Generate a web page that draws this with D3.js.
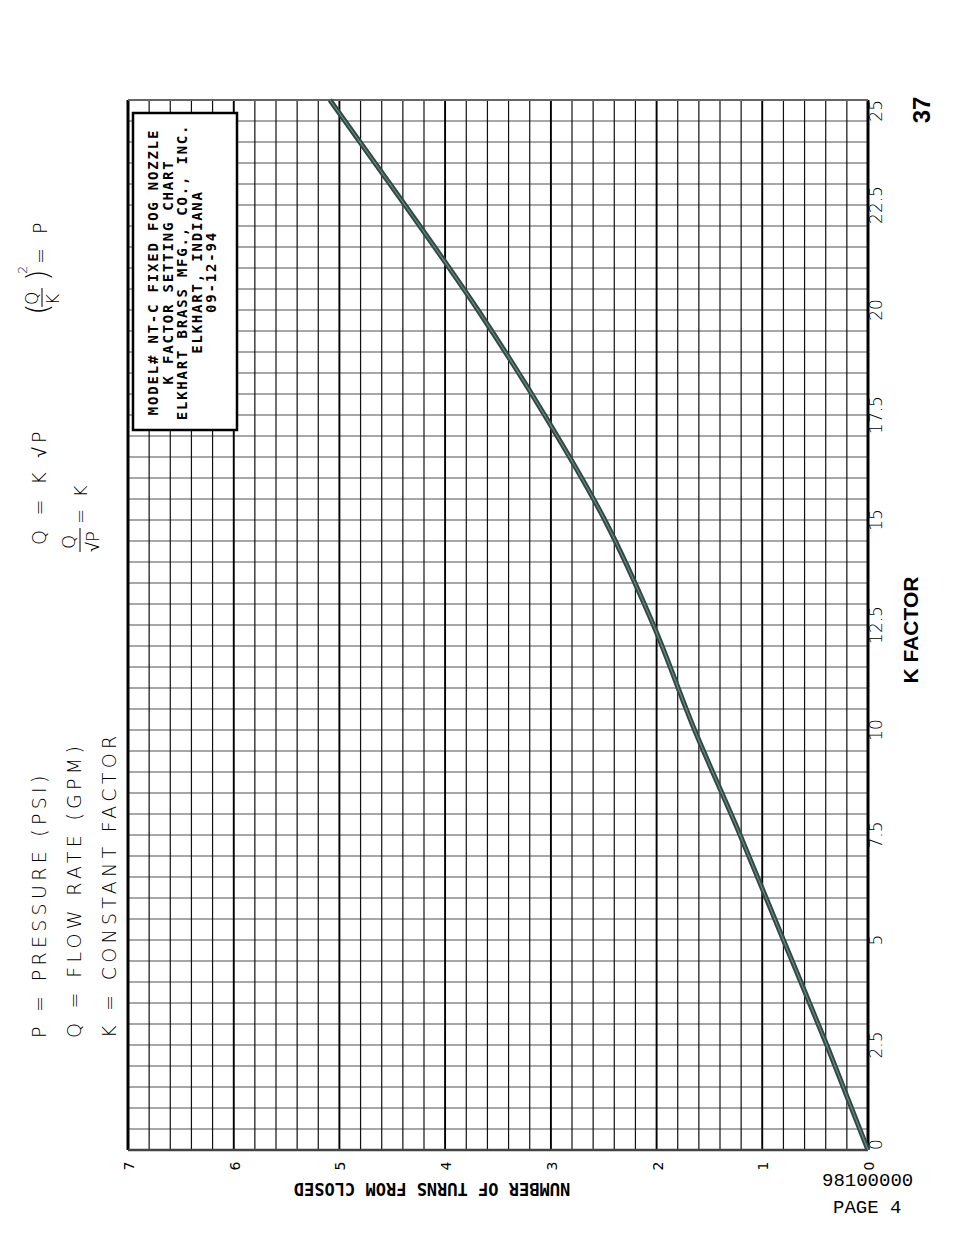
<!DOCTYPE html>
<html><head><meta charset="utf-8">
<script src="https://cdn.jsdelivr.net/npm/d3@7"></script>
<style>body{margin:0;background:#fff}</style></head>
<body><svg id="c" width="954" height="1235"></svg>
<script>
const kTicks=[0,2.5,5,7.5,10,12.5,15,17.5,20,22.5,25];
const kTickLabels=["0","2.5","5","7.5","10","12.5","15","17.5","20","22.5","25"];
const turnTicks=[0,1,2,3,4,5,6,7];
const curveTurns=[0,0.39,0.80,1.21,1.64,2.03,2.49,3.06,3.69,4.38,5.09];
const curveK=[0,2.5,5,7.5,10,12.5,15,17.5,20,22.5,25];
const titleLines=["MODEL# NT-C FIXED FOG NOZZLE","K FACTOR SETTING CHART","ELKHART BRASS MFG., CO., INC.","ELKHART, INDIANA","09-12-94"];
const legendLines=["P = PRESSURE (PSI)","Q = FLOW RATE (GPM)","K = CONSTANT FACTOR"];

const svg=d3.select("#c");
const x=d3.scaleLinear().domain([0,7]).range([868,128]);
const y=d3.scaleLinear().domain([0,25]).range([1150,100]);
const font="'DejaVu Sans Mono', monospace";
const g=svg.append("g");
const minorT=d3.range(0,36).map(i=>i/5), minorK=d3.range(0,51).map(i=>i/2);
g.selectAll("line.mk").data(minorK).join("line").attr("class","mk").attr("y1",d=>y(d)).attr("y2",d=>y(d)).attr("x1",x(0)).attr("x2",x(7)).attr("stroke","#8a8a8a").attr("stroke-width",1.6);
g.selectAll("line.mt").data(minorT).join("line").attr("class","mt").attr("x1",d=>x(d)).attr("x2",d=>x(d)).attr("y1",y(0)).attr("y2",y(25)).attr("stroke","#111").attr("stroke-width",1.2);
g.selectAll("line.Mt").data(turnTicks).join("line").attr("class","Mt").attr("x1",d=>x(d)).attr("x2",d=>x(d)).attr("y1",y(0)).attr("y2",y(25)).attr("stroke","#000").attr("stroke-width",d=>(d==0||d==7)?3:1.8);
g.append("line").attr("x1",x(0)).attr("x2",x(7)).attr("y1",y(0)).attr("y2",y(0)).attr("stroke","#444").attr("stroke-width",2.5);
g.append("line").attr("x1",x(0)).attr("x2",x(7)).attr("y1",y(25)).attr("y2",y(25)).attr("stroke","#666").attr("stroke-width",2);
const line=d3.line().x((d,i)=>x(curveTurns[i])).y(d=>y(d)).curve(d3.curveMonotoneY);
svg.append("path").datum(curveK).attr("d",line).attr("fill","none").attr("stroke","#2f4a44").attr("stroke-width",5);
svg.append("path").datum(curveK).attr("d",line).attr("fill","none").attr("stroke","#6f8a84").attr("stroke-width",1.2);
svg.append("rect").attr("x",133).attr("y",113).attr("width",104).attr("height",317).attr("fill","#fff").attr("stroke","#000").attr("stroke-width",2.5);
titleLines.forEach((t,i)=>svg.append("text").attr("transform",`translate(${158+i*14.5},${272}) rotate(-90)`).attr("text-anchor","middle").attr("font-family",font).attr("font-size",14).attr("letter-spacing",1.8).attr("font-weight","bold").text(t));
svg.selectAll("text.kl").data(kTicks).join("text").attr("class","kl").attr("transform",d=>`translate(${882},${y(d)}) rotate(-90)`).attr("text-anchor",(d,i)=>i==10?"end":(i==0?"start":"middle")).attr("font-family","'DejaVu Sans', sans-serif").attr("font-weight","300").attr("font-size",17).text((d,i)=>kTickLabels[i]);
svg.selectAll("text.tl").data(turnTicks).join("text").attr("class","tl").attr("transform",d=>`translate(${x(d)+6},${1166}) rotate(-90)`).attr("text-anchor","middle").attr("font-family","'DejaVu Sans', sans-serif").attr("font-size",14).text(d=>d);
svg.append("text").attr("transform","translate(918,630) rotate(-90)").attr("text-anchor","middle").attr("font-family","'Liberation Sans', sans-serif").attr("font-size",21).attr("font-weight","bold").text("K FACTOR");
svg.append("text").attr("transform","translate(432,1183) rotate(180)").attr("text-anchor","middle").attr("font-family",font).attr("font-size",17).attr("font-weight","bold").text("NUMBER OF TURNS FROM CLOSED");
svg.append("text").attr("transform","translate(930,110) rotate(-90)").attr("text-anchor","middle").attr("font-family","'Liberation Sans', sans-serif").attr("font-size",24).attr("font-weight","bold").text("37");
svg.append("text").attr("x",822).attr("y",1186).attr("font-family","'Liberation Mono', monospace").attr("font-size",19).text("98100000");
svg.append("text").attr("x",833).attr("y",1213).attr("font-family","'Liberation Mono', monospace").attr("font-size",19).text("PAGE   4");
const lf="'DejaVu Sans', sans-serif";
legendLines.forEach((t,i)=>svg.append("text").attr("transform",`translate(${46+i*35},${1038}) rotate(-90)`).attr("font-family",lf).attr("font-weight","200").attr("font-size",19).attr("letter-spacing",4.3).text(t));
svg.append("text").attr("transform","translate(46,545) rotate(-90)").attr("font-family",lf).attr("font-weight","200").attr("font-size",19).attr("letter-spacing",4.3).text("Q = K √P");
svg.append("text").attr("transform","translate(75,549) rotate(-90)").attr("font-family",lf).attr("font-weight","200").attr("font-size",18).text("Q");
svg.append("line").attr("x1",80).attr("x2",80).attr("y1",552).attr("y2",528).attr("stroke","#000");
svg.append("text").attr("transform","translate(99,552) rotate(-90)").attr("font-family",lf).attr("font-weight","200").attr("font-size",18).text("√P");
svg.append("text").attr("transform","translate(87,524) rotate(-90)").attr("font-family",lf).attr("font-weight","200").attr("font-size",18).attr("letter-spacing",3).text("= K");
svg.append("text").attr("transform","translate(48,315) rotate(-90)").attr("font-family",lf).attr("font-weight","200").attr("font-size",30).text("(");
svg.append("text").attr("transform","translate(48,281) rotate(-90)").attr("font-family",lf).attr("font-weight","200").attr("font-size",30).text(")");
svg.append("text").attr("transform","translate(38,305) rotate(-90)").attr("font-family",lf).attr("font-weight","200").attr("font-size",17).text("Q");
svg.append("line").attr("x1",42).attr("x2",42).attr("y1",307).attr("y2",288).attr("stroke","#000");
svg.append("text").attr("transform","translate(59,305) rotate(-90)").attr("font-family",lf).attr("font-weight","200").attr("font-size",17).text("K");
svg.append("text").attr("transform","translate(27,274) rotate(-90)").attr("font-family",lf).attr("font-weight","200").attr("font-size",13).text("2");
svg.append("text").attr("transform","translate(47,264) rotate(-90)").attr("font-family",lf).attr("font-weight","200").attr("font-size",19).attr("letter-spacing",4).text("= P");
</script></body></html>
